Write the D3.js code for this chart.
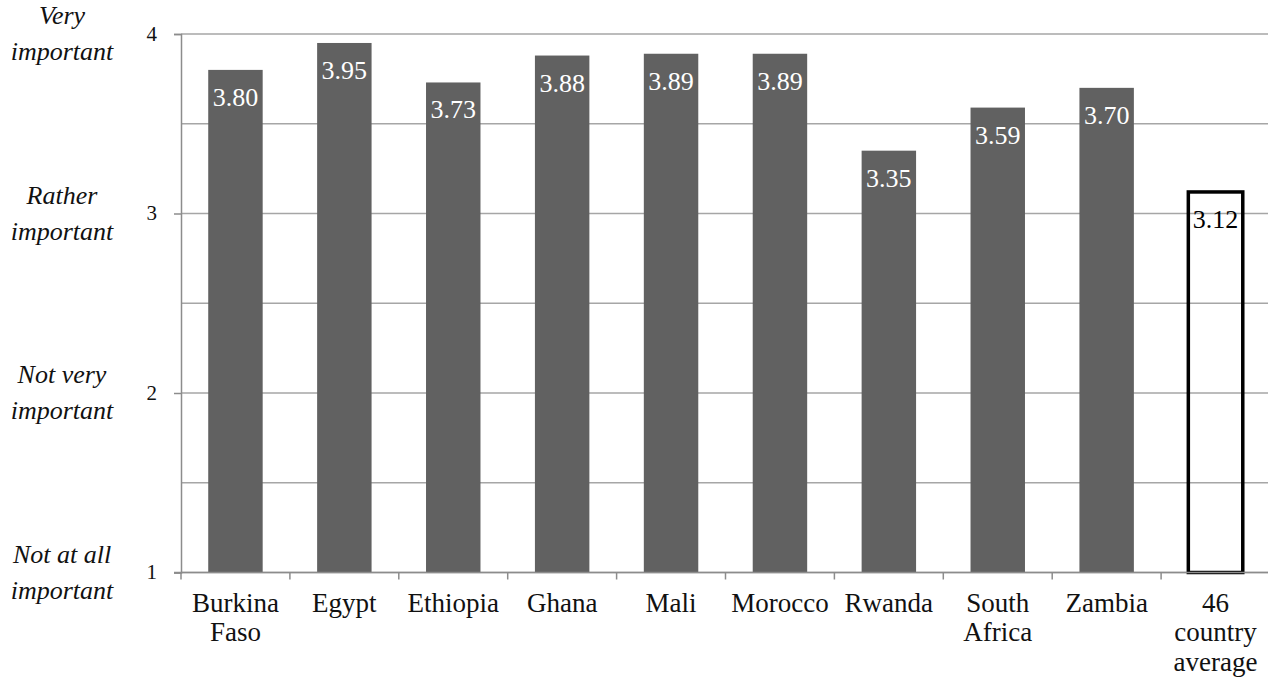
<!DOCTYPE html>
<html>
<head>
<meta charset="utf-8">
<script src="https://cdn.jsdelivr.net/npm/d3@7"></script>
<style>
  html, body { margin: 0; padding: 0; background: #fff; }
  svg { display: block; }
</style>
</head>
<body>
<svg id="chart" width="1268" height="682"></svg>
<script>
// Mean importance rating by country (1 = not at all important, 4 = very important)
const categories = ["Burkina Faso", "Egypt", "Ethiopia", "Ghana", "Mali", "Morocco", "Rwanda", "South Africa", "Zambia", "46 country average"];
const categoryLines = [["Burkina", "Faso"], ["Egypt"], ["Ethiopia"], ["Ghana"], ["Mali"], ["Morocco"], ["Rwanda"], ["South", "Africa"], ["Zambia"], ["46", "country", "average"]];
const values = [3.80, 3.95, 3.73, 3.88, 3.89, 3.89, 3.35, 3.59, 3.70, 3.12];
const highlighted = ["46 country average"];
const yTicks = [1, 2, 3, 4];
const yGrid = [1, 1.5, 2, 2.5, 3, 3.5, 4];
const scaleLabels = [
  { value: 4, lines: ["Very", "important"] },
  { value: 3, lines: ["Rather", "important"] },
  { value: 2, lines: ["Not very", "important"] },
  { value: 1, lines: ["Not at all", "important"] }
];

const FONT = "'Liberation Serif'";
const svg = d3.select("#chart");
const left = 181, bandStep = 108.9;

const x = d3.scaleBand()
  .domain(categories)
  .range([left, left + bandStep * categories.length])
  .paddingInner(0.5)
  .paddingOuter(0.25);

const y = d3.scaleLinear().domain([1, 4]).range([572.5, 34]);

// horizontal gridlines
svg.append("g")
  .selectAll("line")
  .data(yGrid)
  .join("line")
  .attr("x1", left)
  .attr("x2", 1268)
  .attr("y1", d => y(d))
  .attr("y2", d => y(d))
  .attr("stroke", "#a6a6a6")
  .attr("stroke-width", 1.5);

// y axis: tick marks from the axis generator, labels drawn below
const yAxis = svg.append("g")
  .attr("transform", `translate(${left},0)`)
  .call(d3.axisLeft(y).tickValues(yTicks).tickFormat("").tickSize(7));
yAxis.select(".domain").attr("stroke", "#8c8c8c").attr("stroke-width", 1.5);
yAxis.selectAll(".tick line").attr("stroke", "#8c8c8c").attr("stroke-width", 1.5);

svg.append("g")
  .selectAll("text")
  .data(yTicks)
  .join("text")
  .attr("x", left - 24)
  .attr("y", d => y(d))
  .attr("dy", "0.32em")
  .attr("text-anchor", "end")
  .style("font-family", FONT)
  .style("font-size", "21px")
  .attr("fill", "#111")
  .text(d => d3.format("d")(d));

// bars
const rows = categories.map((c, i) => ({ c, v: values[i] }));
svg.append("g")
  .selectAll("rect")
  .data(rows)
  .join("rect")
  .attr("x", d => x(d.c))
  .attr("width", x.bandwidth())
  .attr("y", d => y(d.v))
  .attr("height", d => y(1) - y(d.v))
  .attr("fill", d => highlighted.includes(d.c) ? "none" : "#616161")
  .attr("stroke", d => highlighted.includes(d.c) ? "#000" : "none")
  .attr("stroke-width", 3.5);

// value labels inside bars
svg.append("g")
  .selectAll("text")
  .data(rows)
  .join("text")
  .attr("x", d => x(d.c) + x.bandwidth() / 2)
  .attr("y", d => y(d.v) + 36)
  .attr("text-anchor", "middle")
  .style("font-family", FONT)
  .style("font-size", "26px")
  .attr("fill", d => highlighted.includes(d.c) ? "#000" : "#fff")
  .text(d => d.v.toFixed(2));

// x axis line and band boundary ticks
const xAxisY = y(1);
svg.append("line")
  .attr("x1", left - 7).attr("x2", 1268)
  .attr("y1", xAxisY).attr("y2", xAxisY)
  .attr("stroke", "#8c8c8c").attr("stroke-width", 1.5);
svg.append("g")
  .selectAll("line")
  .data(categories)
  .join("line")
  .attr("x1", c => x(c) - x.step() * 0.25)
  .attr("x2", c => x(c) - x.step() * 0.25)
  .attr("y1", xAxisY)
  .attr("y2", xAxisY + 7)
  .attr("stroke", "#8c8c8c").attr("stroke-width", 1.5);

// category labels
const catG = svg.append("g")
  .selectAll("text")
  .data(categories.map((c, i) => ({ c, lines: categoryLines[i] })))
  .join("text")
  .attr("text-anchor", "middle")
  .style("font-family", FONT)
  .style("font-size", "27px")
  .attr("fill", "#111");
catG.selectAll("tspan")
  .data(d => d.lines.map(l => ({ l, c: d.c })))
  .join("tspan")
  .attr("x", d => x(d.c) + x.bandwidth() / 2)
  .attr("y", (d, i) => xAxisY + 39 + i * 29.5)
  .text(d => d.l);

// verbal scale labels on the left
const scaleG = svg.append("g")
  .selectAll("text")
  .data(scaleLabels)
  .join("text")
  .attr("text-anchor", "middle")
  .style("font-family", FONT)
  .style("font-style", "italic")
  .style("font-size", "26px")
  .attr("fill", "#111");
scaleG.selectAll("tspan")
  .data(d => d.lines.map(l => ({ l, v: d.value })))
  .join("tspan")
  .attr("x", 62)
  .attr("y", (d, i) => y(d.v) - 10 + i * 36)
  .text(d => d.l);
</script>
</body>
</html>
